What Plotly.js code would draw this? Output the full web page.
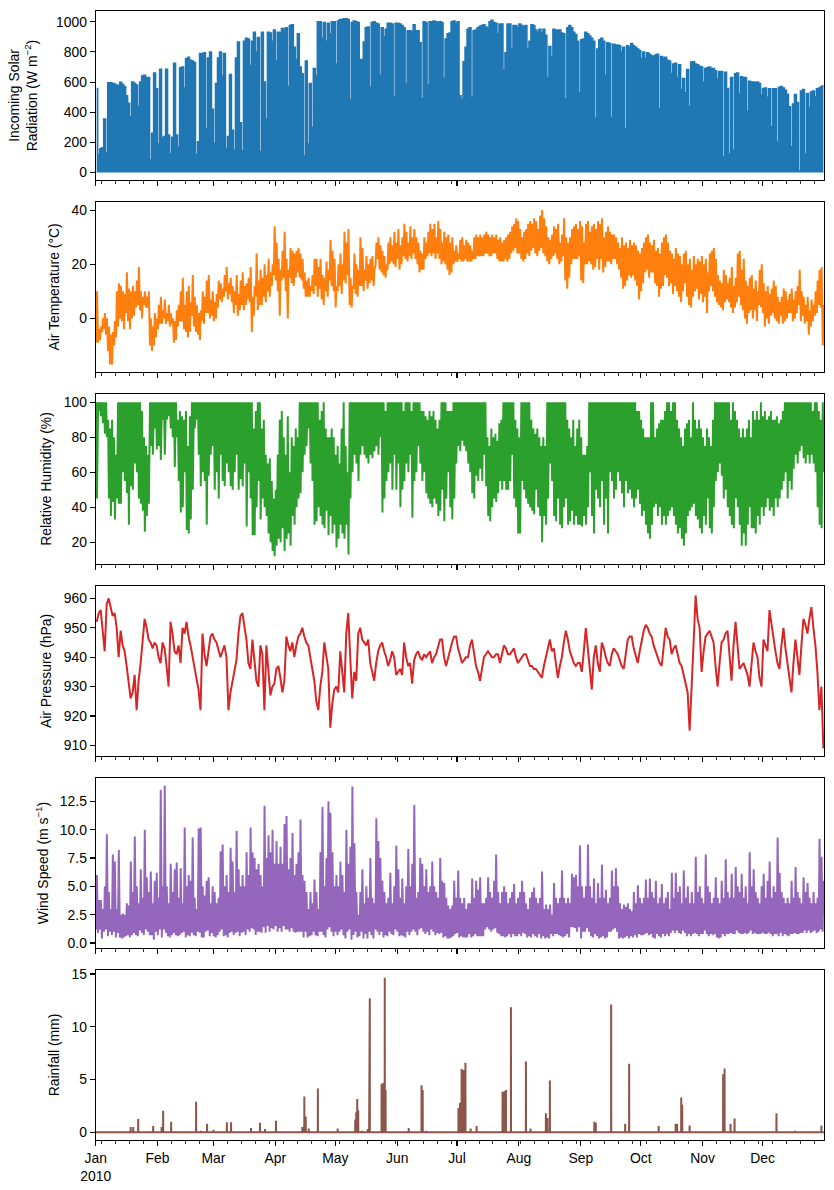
<!DOCTYPE html>
<html>
<head>
<meta charset="utf-8">
<script src="https://cdn.plot.ly/plotly-3.0.1.min.js"></script>
<style>html,body{margin:0;padding:0;background:#fff}#chart{width:834px;height:1190px}</style>
</head>
<body>
<div id="chart"></div>
<script>
// ---- DATA (2010, one entry per day) ----
const solarPeak = [
557,120,158,165,355,130,595,595,592,588,
580,575,598,585,570,510,460,370,600,592,
580,440,600,640,645,630,630,84,260,660,
555,190,685,230,240,685,250,125,235,725,
250,170,695,700,560,755,765,745,740,730,
120,205,790,790,795,290,760,800,420,195,
590,760,800,640,790,160,240,650,280,150,
760,865,330,145,870,890,885,710,870,930,
800,895,140,930,600,355,930,925,870,945,
740,930,925,955,950,960,570,975,980,830,
750,920,700,655,110,740,190,590,300,690,
640,1000,1000,890,995,870,990,920,1000,1000,
720,1005,1015,1015,1020,1020,1015,485,995,1005,
1000,995,750,750,865,960,965,565,995,1000,
990,985,645,960,900,950,990,990,985,500,
990,990,985,975,960,590,940,940,935,980,
940,940,860,490,1000,995,580,1000,1000,1005,
1000,995,1000,995,625,885,920,925,1000,1005,
990,1000,510,485,735,830,950,960,500,940,
945,960,970,975,980,965,955,1000,1010,995,
990,920,985,985,680,795,985,985,820,975,
975,960,985,975,965,975,820,870,980,975,
945,930,950,925,950,910,630,835,770,950,
945,940,945,925,920,490,960,975,960,930,
915,870,530,880,885,930,920,905,890,870,
360,820,880,890,870,645,860,855,366,850,
845,845,840,800,830,293,840,830,855,840,
830,820,810,755,800,760,795,785,775,770,
780,785,425,770,760,765,745,740,656,720,
725,630,715,550,623,530,683,440,733,735,
720,715,705,700,600,690,695,700,690,690,
675,620,670,670,105,665,557,123,630,150,
655,660,524,635,630,630,407,605,600,600,
595,600,590,513,557,560,500,555,304,555,
555,205,565,570,560,545,520,436,172,454,
518,465,13,540,550,123,525,432,535,540,
502,555,560,570,575];

const tempMax = [
10,-4,-3,0,2,0,-3,-6,-5,-1,
10,13,12,10,9,17,11,10,12,10,
14,19,10,8,10,8,10,0,-3,2,
0,5,8,3,7,2,5,2,0,-1,
3,5,10,15,5,10,12,6,16,8,
5,2,3,10,8,14,16,7,10,6,
9,14,13,11,16,19,13,15,12,10,
16,9,14,17,12,13,15,19,8,12,
24,14,18,15,20,16,22,17,20,34,
28,22,18,25,32,22,18,26,25,24,
25,26,24,22,17,14,15,12,16,22,
22,19,22,16,15,21,18,29,25,22,
12,20,24,20,32,28,33,15,12,24,
20,18,30,26,18,23,20,22,23,18,
28,30,27,25,23,20,28,30,27,32,
28,33,27,30,35,32,28,34,30,33,
30,28,25,24,30,28,32,35,33,35,
30,36,33,28,32,30,31,28,30,25,
27,24,29,30,27,29,28,27,25,30,
31,30,31,30,31,32,31,30,31,30,
31,29,30,28,29,30,31,32,34,35,
37,36,33,30,32,33,35,36,35,37,
36,33,38,40,37,34,30,29,31,34,
33,35,28,31,37,30,28,30,33,34,
35,33,36,34,28,35,36,32,34,35,
33,36,35,37,30,32,34,32,31,31,
30,28,26,30,27,28,26,29,27,28,
27,25,24,26,28,30,31,28,27,29,
25,26,24,28,30,31,28,25,24,22,
26,24,23,20,24,25,20,22,18,23,
20,22,21,23,20,22,17,24,25,26,
22,16,14,13,18,16,13,15,19,12,
15,24,25,18,22,14,12,15,16,11,
14,10,18,20,13,10,12,9,11,14,
12,8,6,8,11,10,7,9,11,7,
10,12,18,10,8,5,8,3,7,5,
10,14,18,19,5];

const tempMin = [
-9,-9,-8,-5,-4,-6,-12,-17,-17,-10,
-7,-3,0,-1,-4,2,-1,-4,0,1,
4,5,3,0,5,4,4,-10,-12,-10,
-7,-4,-2,-2,0,-2,-1,-3,-2,-9,
-8,-3,-1,-1,-4,-5,-7,-5,1,-3,
-5,-6,-8,-1,-2,2,2,0,1,-1,
0,4,7,6,8,10,7,9,6,2,
5,1,3,5,3,5,7,6,-5,1,
8,3,5,5,8,6,10,8,12,16,
14,10,1,14,15,10,0,15,13,12,
15,17,15,14,11,8,8,8,10,9,
12,8,11,7,5,10,8,14,12,10,
4,10,12,9,14,13,16,5,4,11,
9,8,12,12,10,14,11,13,14,12,
20,22,18,17,16,15,18,20,21,20,
19,22,18,20,23,22,21,23,22,24,
22,20,17,18,18,22,23,24,23,24,
22,24,22,20,21,20,18,16,17,20,
21,21,22,21,21,22,21,21,21,22,
22,23,23,23,23,24,24,23,23,24,
24,22,21,21,21,22,21,22,24,25,
26,24,24,22,21,22,24,23,25,26,
24,23,25,26,24,23,21,20,22,23,
24,22,20,21,23,14,11,15,20,22,
22,22,23,14,13,20,20,21,20,18,
19,22,18,22,17,19,21,21,20,22,
22,20,18,15,11,12,14,16,15,16,
14,12,7,10,13,17,18,15,17,17,
13,12,8,11,12,16,15,12,13,9,
12,10,8,6,10,13,8,5,4,8,
10,11,7,9,6,8,2,10,12,10,
8,6,5,4,3,6,7,6,4,2,
4,6,8,5,3,0,-2,2,3,0,
3,-1,5,4,2,-3,0,-2,1,2,
0,-1,-2,1,-2,-1,0,2,2,-1,
0,2,5,-1,1,-2,-1,-6,-3,-1,
1,2,5,4,-10];

const rhMax = [
100,100,100,100,100,100,90,85,90,80,
70,100,100,100,100,100,100,100,100,100,
100,100,100,95,80,75,70,100,100,100,
100,100,100,100,100,100,100,100,100,100,
100,90,95,92,90,95,75,92,100,100,
100,100,100,100,100,100,100,100,100,100,
100,100,100,100,100,100,100,100,100,100,
100,100,100,100,100,100,100,100,100,85,
95,100,100,85,90,70,65,68,55,45,
50,70,90,95,80,70,92,60,80,75,
85,80,100,100,100,100,100,100,100,100,
100,100,90,95,100,85,80,80,85,80,
70,75,65,85,100,75,60,100,100,100,
100,100,100,100,100,100,100,100,100,100,
100,100,100,100,100,95,100,100,100,100,
100,100,100,100,95,100,100,100,95,100,
100,100,100,95,95,92,90,95,92,95,
90,85,90,100,100,100,95,95,95,100,
100,100,100,100,100,100,100,100,100,100,
100,100,100,100,100,100,80,75,85,80,
82,78,88,90,100,100,100,100,100,100,
90,85,80,100,100,100,100,100,90,85,
82,85,80,75,80,75,100,100,100,100,
100,100,100,100,100,100,90,85,80,90,
75,85,90,80,70,70,75,100,100,100,
100,100,100,100,100,100,100,100,100,100,
100,100,100,100,100,100,100,100,100,100,
100,95,95,90,85,80,80,80,100,100,
80,85,88,90,90,95,100,100,95,100,
100,90,85,80,75,85,88,90,80,100,
90,85,90,85,80,75,85,80,75,90,
100,100,100,100,100,100,100,100,90,100,
95,90,85,80,85,80,85,90,80,95,
90,95,90,100,92,95,90,92,95,90,
90,92,88,90,95,100,100,100,100,100,
100,100,100,100,100,100,100,100,100,95,
100,100,95,90,100];

const rhMin = [
45,95,92,88,82,80,45,35,43,33,
45,42,42,60,55,48,30,52,50,65,
60,45,42,38,26,35,42,75,70,85,
73,75,67,90,70,90,92,85,80,63,
80,55,37,40,60,27,25,33,50,85,
90,70,52,60,55,30,58,70,75,50,
60,45,70,55,52,65,60,52,50,60,
70,50,56,52,65,29,60,45,24,24,
40,55,33,45,40,35,25,20,15,12,
18,22,20,28,15,22,25,18,35,30,
40,45,48,60,70,75,85,65,55,30,
32,40,35,30,28,38,24,35,25,30,
17,22,30,25,22,30,13,45,60,70,
65,55,70,75,70,68,65,70,68,72,
75,70,80,37,45,55,60,65,50,70,
50,65,40,50,55,65,60,70,34,55,
60,75,65,55,60,48,45,42,40,45,
42,35,38,50,32,45,60,40,33,45,
65,75,72,78,75,72,65,60,48,45,
58,55,62,55,70,52,35,32,40,45,
43,48,55,50,55,50,50,55,70,45,
40,25,25,55,50,45,42,40,38,36,
50,40,35,20,35,30,45,65,55,35,
32,45,30,28,40,45,30,32,38,30,
35,30,30,29,35,30,40,60,35,25,
50,45,40,55,30,45,25,60,55,45,
50,60,55,48,40,55,48,50,45,40,
45,50,42,35,38,30,25,22,30,40,
42,35,40,30,35,30,35,38,40,35,
30,25,28,22,18,25,35,38,40,42,
35,33,28,25,35,30,45,28,25,40,
55,60,65,58,45,50,40,35,30,28,
45,40,30,18,25,18,30,40,28,28,
25,35,30,40,35,40,45,38,40,35,
45,40,45,50,55,60,45,55,50,62,
70,65,72,75,68,65,70,65,70,65,
60,40,30,28,60];

const pressure = [
952,955,956,948,942,958,960,957,954,955,
950,940,949,944,942,937,932,926,928,934,
922,932,938,946,953,950,946,945,943,945,
944,940,938,945,943,937,930,952,948,942,
941,944,938,950,948,952,947,944,940,936,
933,929,922,948,941,937,942,947,948,946,
945,942,940,942,944,940,922,928,932,936,
939,948,954,955,951,946,938,936,946,938,
932,930,944,941,922,944,935,927,930,931,
936,937,933,928,932,947,944,942,945,940,
944,947,948,950,947,945,944,940,937,932,
925,922,930,935,945,940,936,916,924,929,
930,928,942,935,928,948,955,940,926,935,
932,948,950,946,945,944,946,938,935,932,
938,942,944,945,942,940,937,939,942,940,
934,935,936,934,945,940,937,938,931,939,
941,942,940,939,941,940,941,942,938,940,
941,944,946,946,940,937,940,942,945,947,
947,943,940,938,939,940,940,944,946,941,
937,935,932,936,940,941,942,941,940,940,
941,941,938,941,944,943,941,941,942,943,
940,938,939,940,941,941,939,937,937,936,
936,935,934,933,937,940,944,946,942,943,
938,933,937,940,945,949,946,942,940,938,
937,938,938,935,942,950,943,937,929,940,
944,938,935,945,943,940,938,937,941,943,
942,941,939,937,936,941,946,947,947,943,
940,938,942,946,949,951,950,948,947,944,
942,940,938,937,943,950,947,946,941,943,
944,941,938,937,934,931,928,915,933,945,
961,953,950,935,942,947,948,949,947,945,
937,930,938,945,946,948,949,940,932,944,
952,944,936,937,938,936,934,930,938,945,
942,940,933,930,946,944,942,956,951,946,
942,938,936,944,950,943,938,933,928,938,
946,940,934,944,953,951,948,953,957,950,
944,935,922,930,909];

const windMax = [
6,3.8,3.8,3,5,9.6,4.5,3,7.8,7.2,
3,8.2,2.5,2.6,2.5,3.5,3.3,7.2,4.5,9.4,
5,3.5,6.5,4,10,5.8,4.5,6.3,3.5,5.5,
6.2,4,13.5,5,13.9,5,3.5,7,4.5,6.5,
7.1,4,6.6,3.5,10.2,5,6,5.5,9.3,4,
3,10.1,10.2,5,4.2,5.5,5.8,3.5,5,4.5,
3.5,4,8.1,8.7,5,6,4.5,8.4,7.2,4.5,
9.9,6.5,5,6,5,8,6,10.2,8,7.5,
6.5,7,6,5,12.1,7.5,9.5,8,10,7,
9,7,8.5,7,10.5,11.2,6.5,7.5,9.7,6,
7,8,10.9,6,5.5,4.5,3,4.5,3.5,5.6,
4.5,3,8,12,5,7.5,12.5,11.5,8,5,
6,5,7.2,6,4.5,10,7,8.5,13.8,8.8,
4.5,2.5,4.5,6.5,3.5,5,4,7.5,4,3.5,
11,9,7.5,5.5,4.5,3.5,4,6.2,3.5,5,
8.6,6.5,4,5.7,3.5,5,8.3,5,7,12.2,
4,4.5,7.5,7,5,6.5,4.5,5,7.2,5,
4.5,4,7.5,5.5,5.3,4,3.3,3,3.3,5.5,
4,6.4,4,3.5,4,3,3.5,3.5,5.7,4,
5.5,4.7,5.8,3.5,3.5,4,5.8,4.5,4,5.5,
7.8,4.5,3.5,4.5,5,4.5,3.5,4,4.5,5.2,
3.5,4,4.5,5.5,4.5,3.5,3,4,4.5,4.9,
4,3.5,4,6.3,3,3.4,3,3.4,2.5,5.3,
4,3.5,4,6.4,4,3.5,4,3.5,6.1,5.8,
6,5,8.6,5,4,5,8.7,5,4,5.7,
3.5,5.3,4,6.9,4,4.7,3.5,4,6.4,5,
6.6,5,3.5,3,3.4,3.2,3.5,3,2.8,4.5,
3.5,5.1,4,3.5,4,5.6,4,5.7,4.5,4,
5.5,3.5,4,5.2,3.5,4,4.5,3,6.2,4,
6.2,4.5,5,3.5,6.4,4,5,3.5,4.5,3.5,
7.6,4.5,5,4,3.5,7.8,5,4.5,3.5,4,
5.8,4,3.5,5.5,4,7.4,4.5,4,6.1,4,
6.7,5,4.5,6.1,4,5,3.5,8,5,6.5,
4.5,4,3.5,5,6.1,4,5.5,7.2,4,5,
4.5,9.3,6.2,4.5,4,3.5,4,3.5,5.5,4,
6.7,4.5,4,3.5,5.8,4.5,5.3,4,3.5,4.5,
3.5,4,9.2,7.6,5.5];

const windMin = [
1.2,0.9,1.2,0.4,1.0,1.2,0.6,1.0,0.7,1.0,
0.5,0.9,0.5,0.4,0.5,0.6,0.7,0.5,0.7,0.9,
0.7,0.6,1.1,0.9,0.7,1.2,1.0,0.7,0.7,0.3,
1.0,0.7,1.2,0.5,1.2,0.9,0.6,0.5,0.7,0.9,
0.7,0.6,0.7,0.9,1.0,0.5,0.7,0.6,0.9,0.7,
0.6,1.0,0.9,0.5,0.5,1.0,1.1,0.6,0.9,0.6,
0.5,0.7,1.0,1.2,0.6,0.7,0.5,0.9,1.0,0.7,
0.9,1.0,0.6,0.9,1.0,0.7,1.2,1.0,1.3,1.2,
0.7,1.0,1.0,0.9,1.4,0.9,1.5,1.0,1.3,1.2,
1.5,1.0,1.3,1.0,1.5,1.2,1.2,1.0,1.3,1.0,
0.9,1.0,1.0,1.0,0.5,1.0,0.5,0.6,0.7,1.0,
0.7,0.6,1.0,1.0,0.7,0.5,1.2,1.4,1.0,0.6,
1.0,0.7,1.0,1.2,0.7,0.4,1.0,1.2,0.3,0.7,
1.0,0.5,0.6,1.0,0.4,0.8,0.4,1.0,0.7,0.4,
1.2,1.0,0.7,1.0,0.5,0.7,0.6,1.0,0.8,0.7,
1.2,1.0,0.6,0.7,0.6,0.5,1.0,0.7,1.0,1.2,
1.0,0.7,1.2,1.3,1.0,0.8,1.0,0.7,1.2,1.0,
0.7,0.9,0.8,0.9,0.5,0.6,0.4,0.4,0.5,0.6,
0.8,0.9,0.5,0.6,0.5,0.5,0.5,0.8,0.5,0.6,
0.8,0.6,0.6,0.6,0.6,1.2,1.4,1.2,1.0,1.2,
1.3,0.9,0.8,0.6,0.6,0.5,0.6,0.8,0.5,0.8,
0.6,0.6,0.8,0.6,0.9,0.8,0.5,0.6,0.5,0.8,
0.6,0.5,0.8,0.4,0.6,0.4,0.5,0.4,0.8,0.6,
0.8,0.8,0.7,0.6,0.5,0.6,0.8,0.5,1.4,1.4,
1.3,1.0,1.4,0.4,1.0,1.0,1.3,1.0,0.6,0.5,
0.8,0.6,0.4,0.5,0.6,0.4,0.5,1.0,1.0,1.2,
1.3,1.0,0.4,0.5,0.4,0.5,0.6,0.4,0.6,0.5,
0.7,0.5,0.8,0.7,0.7,0.8,0.9,0.7,0.8,0.5,
0.4,0.8,0.6,0.5,0.8,0.6,0.8,0.6,0.9,1.1,
0.9,1.1,0.9,0.8,1.1,0.9,0.6,0.8,0.6,0.8,
0.9,0.8,0.6,0.8,0.8,1.1,0.8,0.6,0.8,0.7,
0.8,0.5,0.4,0.5,0.8,0.6,0.8,0.8,0.9,0.8,
0.8,1.1,0.9,0.8,0.8,0.9,0.8,0.9,1.1,0.8,
0.9,0.8,0.8,0.8,0.9,0.8,0.8,0.9,0.8,0.6,
0.8,0.8,0.6,0.9,0.6,0.8,0.7,0.6,0.8,0.8,
0.9,0.8,0.8,0.9,0.9,1.1,0.9,1.1,0.9,1.0,
1.1,0.9,1.0,1.2,1.0];

const rainTime = [
'2010-01-18 12:00','2010-01-19 19:00','2010-01-22 07:00','2010-01-29 19:00',
'2010-02-03 00:00','2010-02-03 19:00','2010-02-07 19:00','2010-02-12 00:00','2010-02-20 07:00','2010-02-22 19:00','2010-02-25 19:00',
'2010-03-01 00:00','2010-03-07 17:00','2010-03-09 19:00','2010-03-14 12:00','2010-03-19 19:00','2010-03-24 07:00','2010-03-26 19:00',
'2010-04-01 07:00','2010-04-14 12:00','2010-04-15 12:00','2010-04-16 05:00','2010-04-17 17:00','2010-04-22 07:00',
'2010-05-02 05:00','2010-05-11 00:00','2010-05-11 12:00','2010-05-12 00:00','2010-05-12 12:00','2010-05-14 07:00','2010-05-17 07:00','2010-05-18 00:00','2010-05-18 07:00','2010-05-24 05:00','2010-05-25 05:00','2010-05-25 19:00','2010-05-26 05:00',
'2010-06-06 19:00','2010-06-13 05:00','2010-06-13 19:00','2010-06-15 12:00',
'2010-07-01 17:00','2010-07-02 12:00','2010-07-03 07:00','2010-07-04 05:00','2010-07-05 05:00','2010-07-07 19:00','2010-07-10 19:00','2010-07-23 19:00','2010-07-24 17:00','2010-07-25 12:00','2010-07-28 00:00',
'2010-08-04 12:00','2010-08-06 19:00','2010-08-14 12:00','2010-08-15 07:00','2010-08-16 12:00','2010-08-18 05:00','2010-08-24 00:00',
'2010-09-07 19:00','2010-09-08 12:00','2010-09-16 05:00','2010-09-23 05:00','2010-09-25 05:00',
'2010-10-10 00:00','2010-10-18 12:00','2010-10-19 05:00','2010-10-21 07:00','2010-10-21 19:00','2010-10-25 12:00',
'2010-11-11 07:00','2010-11-12 00:00','2010-11-15 00:00','2010-11-17 00:00','2010-11-22 19:00',
'2010-12-08 00:00','2010-12-17 07:00','2010-12-23 17:00','2010-12-30 12:00'];
const rainMm = [
0.5,0.5,1.25,0.6,
0.5,2.05,1.0,0.1,2.9,0.15,0.8,
0.25,0.95,0.95,0.1,0.4,0.9,0.3,
1.1,0.5,3.4,1.5,0.35,4.15,
0.35,1.2,1.9,3.15,2.1,0.15,0.3,1.7,12.7,4.6,4.7,14.65,4.0,
0.4,4.45,4.0,0.15,
2.3,2.8,6.0,5.9,6.6,0.35,0.6,3.85,3.9,4.0,11.85,
6.7,0.35,1.8,1.35,4.9,0.1,0.1,
1.0,0.9,12.1,0.8,6.5,
0.6,0.8,0.8,3.3,2.6,0.65,
5.5,6.05,0.8,1.3,0.1,
1.8,0.15,0.1,0.65];

const monthTicks = ['2010-01-01','2010-02-01','2010-03-01','2010-04-01','2010-05-01','2010-06-01',
  '2010-07-01','2010-08-01','2010-09-01','2010-10-01','2010-11-01','2010-12-01'];
const monthLabels = ['Jan<br>2010','Feb','Mar','Apr','May','Jun','Jul','Aug','Sep','Oct','Nov','Dec'];

const yTitles = ['Incoming Solar<br>Radiation (W m<sup>−2</sup>)', 'Air Temperature (°C)',
  'Relative Humidity (%)', 'Air Pressure (hPa)', 'Wind Speed (m s<sup>−1</sup>)', 'Rainfall (mm)'];
const colors = ['#1f77b4','#ff7f0e','#2ca02c','#d62728','#9467bd','#8c564b'];

// ---- helpers ----
const T0 = Date.UTC(2010, 0, 1);
const HOUR = 3600e3;
function iso(ms) { return new Date(ms).toISOString().slice(0, 19).replace('T', ' '); }
function at(day, hour) { return iso(T0 + (day * 24 + hour) * HOUR); }

// Solar: daily peaks, drawn as day-wide steps filled to zero (night = 0)
const solX = solarPeak.map((v, i) => at(i, 12));

// Diurnal pairs: low / high values at their usual hours of the day
function pairs(firstArr, firstHour, secondArr, secondHour) {
  const x = [], y = [];
  for (let i = 0; i < firstArr.length; i++) {
    x.push(at(i, firstHour)); y.push(firstArr[i]);
    x.push(at(i, secondHour)); y.push(secondArr[i]);
  }
  return {x, y};
}
const tPts = pairs(tempMin, 5, tempMax, 15);
const rhPts = pairs(rhMax, 5, rhMin, 15);
const wPts = pairs(windMin, 3, windMax, 14);
const pX = pressure.map((v, i) => at(i, 12));

// Rainfall: hourly series, zero except at the rain hours
const rX = [iso(T0)], rY = [0];
rainTime.forEach((s, k) => {
  const t = Date.parse(s.replace(' ', 'T') + ':00Z');
  rX.push(iso(t - HOUR), iso(t), iso(t + HOUR));
  rY.push(0, rainMm[k], 0);
});
rX.push(iso(T0 + 8759 * HOUR)); rY.push(0);

const LW = 2;
const traces = [
  {x: solX, y: solarPeak, type: 'scatter', mode: 'lines', line: {color: colors[0], width: 1.5, shape: 'hvh'},
   fill: 'tozeroy', fillcolor: colors[0], xaxis: 'x', yaxis: 'y'},
  {x: tPts.x, y: tPts.y, type: 'scatter', mode: 'lines', line: {color: colors[1], width: LW}, xaxis: 'x2', yaxis: 'y2'},
  {x: rhPts.x, y: rhPts.y, type: 'scatter', mode: 'lines', line: {color: colors[2], width: LW}, xaxis: 'x3', yaxis: 'y3'},
  {x: pX, y: pressure, type: 'scatter', mode: 'lines', line: {color: colors[3], width: LW}, xaxis: 'x4', yaxis: 'y4'},
  {x: wPts.x, y: wPts.y, type: 'scatter', mode: 'lines', line: {color: colors[4], width: LW}, xaxis: 'x5', yaxis: 'y5'},
  {x: rX, y: rY, type: 'scatter', mode: 'lines', line: {color: colors[5], width: LW}, xaxis: 'x6', yaxis: 'y6'}
];

// ---- layout ----
const W = 834, Hh = 1190;
const FONT = {family: 'Liberation Sans, Arial, sans-serif', size: 13.9, color: '#000'};
const xDom = [95.7 / W, 824.3 / W];
const panelPx = [[10.7, 180.3], [202, 372], [394, 564], [586.3, 755.7], [778.3, 947.7], [970, 1140]];
const yRanges = [[-51, 1073], [-19.8, 43], [7.6, 104.7], [906.5, 964.1], [-0.41, 14.53], [-0.73, 15.38]];
const yDticks = [200, 20, 20, 10, 2.5, 5];
const yFormats = ['', '', '', '', '.1f', ''];
const titleGap = [15, 8, 8, 8, 8, 8];

const layout = {
  width: W, height: Hh, showlegend: false, hovermode: false,
  paper_bgcolor: '#fff', plot_bgcolor: '#fff',
  margin: {l: 0, r: 0, t: 0, b: 0},
  font: FONT
};
for (let i = 0; i < 6; i++) {
  const sx = i === 0 ? '' : String(i + 1);
  layout['xaxis' + sx] = {
    domain: xDom, anchor: 'y' + sx, type: 'date',
    range: ['2010-01-01 00:00:00', '2010-12-31 23:00:00'],
    showgrid: false, zeroline: false, showline: true, mirror: true,
    linecolor: '#000', linewidth: 1.1,
    ticks: 'outside', ticklen: 4.9, tickwidth: 1.1, tickcolor: '#000',
    tickmode: 'array', tickvals: monthTicks, ticktext: monthLabels,
    showticklabels: i === 5, tickfont: FONT,
    minor: {ticks: 'outside', ticklen: 2.8, tickwidth: 0.8, tickcolor: '#000',
            tick0: '2010-01-04', dtick: 7 * 86400000, showgrid: false}
  };
  const p = panelPx[i];
  layout['yaxis' + sx] = {
    domain: [1 - p[1] / Hh, 1 - p[0] / Hh], anchor: 'x' + sx,
    range: yRanges[i], tickmode: 'linear', tick0: 0, dtick: yDticks[i], tickformat: yFormats[i],
    showgrid: false, zeroline: false, showline: true, mirror: true,
    linecolor: '#000', linewidth: 1.1,
    ticks: 'outside', ticklen: 4.9, tickwidth: 1.1, tickcolor: '#000',
    tickfont: FONT,
    title: {text: yTitles[i], font: FONT, standoff: titleGap[i]}
  };
}

Plotly.newPlot('chart', traces, layout, {staticPlot: true, displayModeBar: false});
</script>
</body>
</html>
